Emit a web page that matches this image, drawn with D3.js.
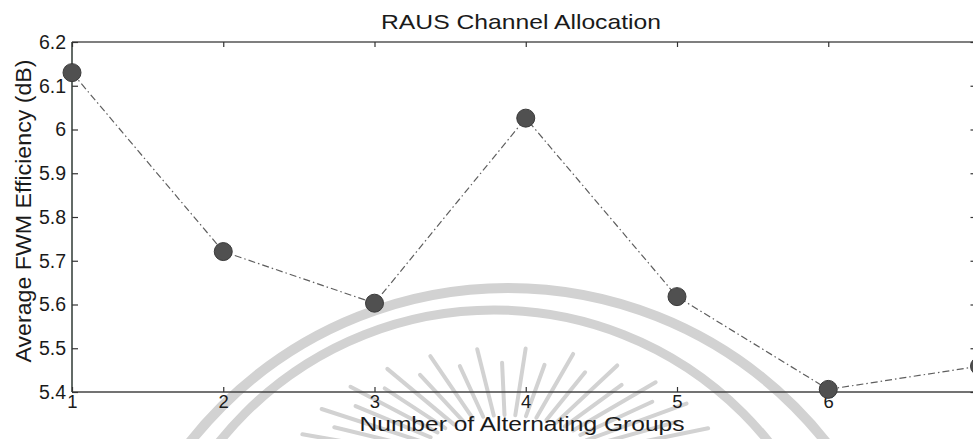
<!DOCTYPE html>
<html>
<head>
<meta charset="utf-8">
<script src="https://cdn.jsdelivr.net/npm/d3@7"></script>
<style>
  html, body { margin: 0; padding: 0; background: #fff; }
  svg { display: block; }
  text { font-family: "Liberation Sans", Arial, sans-serif; fill: #1a1a1a; }
</style>
</head>
<body>
<svg id="chart" width="973" height="439"></svg>
<script>
// Data
const groups = [1, 2, 3, 4, 5, 6, 7];
const efficiency = [6.13, 5.721, 5.603, 6.026, 5.618, 5.406, 5.459];
const xTicks = [1, 2, 3, 4, 5, 6];
const yTicks = [5.4, 5.5, 5.6, 5.7, 5.8, 5.9, 6.0, 6.1, 6.2];
const yTickLabels = ["5.4", "5.5", "5.6", "5.7", "5.8", "5.9", "6", "6.1", "6.2"];
const titleText = "RAUS Channel Allocation";
const xLabelText = "Number of Alternating Groups";
const yLabelText = "Average FWM Efficiency (dB)";

(function () {
  const svg = d3.select("#chart");
  const plotL = 72, plotR = 979.5, plotT = 42, plotB = 392;

  const x = d3.scaleLinear().domain([1, 7]).range([plotL, plotR]);
  const y = d3.scaleLinear().domain([5.4, 6.2]).range([plotB, plotT]);

  // Faint emblem in the background
  const wm = svg.append("g").attr("fill", "none").attr("stroke", "#d2d2d2");
  wm.append("circle").attr("cx", 508).attr("cy", 693).attr("r", 405).attr("stroke-width", 10);
  wm.append("circle").attr("cx", 494).attr("cy", 662).attr("r", 352).attr("stroke-width", 9);
  const sun = { cx: 507, cy: 470 };
  d3.range(184, 358, 6.5).forEach((deg, i) => {
    const a = deg * Math.PI / 180;
    const k = i % 2 ? 0.88 : 1;
    const x1 = sun.cx + 95 * Math.cos(a), y1 = sun.cy + 55 * Math.sin(a);
    const x2 = sun.cx + 214 * k * Math.cos(a), y2 = sun.cy + 122 * k * Math.sin(a);
    wm.append("line").attr("x1", x1).attr("y1", y1).attr("x2", x2).attr("y2", y2)
      .attr("stroke-width", 4).attr("stroke-linecap", "round");
  });

  // Axes box
  const axisColor = "#2f3a34";
  svg.append("line").attr("x1", plotL).attr("x2", plotR).attr("y1", plotT).attr("y2", plotT)
    .attr("stroke", "#555").attr("stroke-width", 1.5);
  svg.append("line").attr("x1", plotL).attr("x2", plotR).attr("y1", plotB).attr("y2", plotB)
    .attr("stroke", "#444").attr("stroke-width", 1.5);
  svg.append("line").attr("x1", plotL).attr("x2", plotL).attr("y1", plotT).attr("y2", plotB)
    .attr("stroke", axisColor).attr("stroke-width", 1.5);
  svg.append("line").attr("x1", plotR).attr("x2", plotR).attr("y1", plotT).attr("y2", plotB)
    .attr("stroke", axisColor).attr("stroke-width", 1.5);

  // Bottom axis with inward ticks
  const xAxis = svg.append("g").attr("transform", `translate(0,${plotB})`)
    .call(d3.axisBottom(x).tickValues(xTicks).tickFormat(d3.format("d")).tickSize(-5).tickPadding(3));
  xAxis.select(".domain").remove();
  xAxis.selectAll(".tick line").attr("stroke", "#333").attr("stroke-width", 1.2);
  xAxis.selectAll(".tick text").attr("font-size", 18.5).attr("font-family", "Liberation Sans, Arial, sans-serif")
    .attr("fill", "#1a1a1a");

  // Top axis ticks (no labels)
  const xTop = svg.append("g").attr("transform", `translate(0,${plotT})`)
    .call(d3.axisTop(x).tickValues(xTicks).tickFormat("").tickSize(-5));
  xTop.select(".domain").remove();
  xTop.selectAll(".tick line").attr("stroke", "#333").attr("stroke-width", 1.2);

  // Left axis with inward ticks
  const yAxis = svg.append("g").attr("transform", `translate(${plotL},0)`)
    .call(d3.axisLeft(y).tickValues(yTicks).tickFormat((d, i) => yTickLabels[i]).tickSize(-6).tickPadding(6));
  yAxis.select(".domain").remove();
  yAxis.selectAll(".tick line").attr("stroke", "#333").attr("stroke-width", 1.2);
  yAxis.selectAll(".tick text").attr("font-size", 19.5).attr("font-family", "Liberation Sans, Arial, sans-serif")
    .attr("fill", "#1a1a1a");

  // Right axis ticks (no labels)
  const yRight = svg.append("g").attr("transform", `translate(${plotR},0)`)
    .call(d3.axisRight(y).tickValues(yTicks).tickFormat("").tickSize(-9));
  yRight.select(".domain").remove();
  yRight.selectAll(".tick line").attr("stroke", "#333").attr("stroke-width", 1.2);

  // Data line (dash-dot)
  const pts = groups.map((g, i) => [g, efficiency[i]]);
  svg.append("path")
    .datum(pts)
    .attr("fill", "none")
    .attr("stroke", "#5e5e5e")
    .attr("stroke-width", 1.2)
    .attr("stroke-dasharray", "7,3,1.5,3")
    .attr("d", d3.line().x(d => x(d[0])).y(d => y(d[1])));

  // Markers
  svg.append("g").selectAll("circle")
    .data(pts)
    .join("circle")
    .attr("cx", d => x(d[0]))
    .attr("cy", d => y(d[1]))
    .attr("r", 9)
    .attr("fill", "#505050")
    .attr("stroke", "#3a3a3a")
    .attr("stroke-width", 1);

  // Title and axis labels
  svg.append("text").attr("x", 521).attr("y", 29).attr("text-anchor", "middle")
    .attr("font-size", 21).attr("textLength", 280).attr("lengthAdjust", "spacingAndGlyphs")
    .text(titleText);
  svg.append("text").attr("x", 522).attr("y", 431).attr("text-anchor", "middle")
    .attr("font-size", 20).attr("textLength", 325).attr("lengthAdjust", "spacingAndGlyphs")
    .text(xLabelText);
  svg.append("text").attr("transform", "translate(31,211) rotate(-90)").attr("text-anchor", "middle")
    .attr("font-size", 22).attr("textLength", 303).attr("lengthAdjust", "spacingAndGlyphs")
    .text(yLabelText);
})();
</script>
</body>
</html>
